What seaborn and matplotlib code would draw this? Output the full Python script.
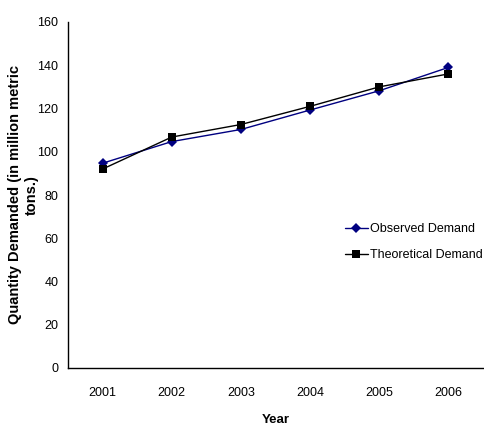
import numpy as np
import pandas as pd
import matplotlib
matplotlib.use('Agg')
import matplotlib.pyplot as plt
import seaborn as sns

# Data
years = ['2001', '2002', '2003', '2004', '2005', '2006']
observed = [94.7, 104.7, 110.3, 119.3, 128.2, 139.0]
theoretical = [92.0, 106.8, 112.6, 121.0, 130.0, 136.0]

sns.set_style('white')
plt.rcParams['font.family'] = ['Liberation Sans', 'DejaVu Sans']
plt.rcParams['text.color'] = 'black'
plt.rcParams['axes.labelcolor'] = 'black'

df = pd.DataFrame({'pos': np.arange(len(years)), 'Observed Demand': observed,
                   'Theoretical Demand': theoretical})

fig = plt.figure(figsize=(4.84, 4.28), dpi=100)
ax = fig.add_axes([68 / 484, 60 / 428, 415 / 484, 346 / 428])

sns.lineplot(data=df, x='pos', y='Observed Demand', ax=ax, color='#000080',
             marker='D', markersize=5, linewidth=1, markeredgewidth=0,
             label='Observed Demand')
sns.lineplot(data=df, x='pos', y='Theoretical Demand', ax=ax, color='black',
             marker='s', markersize=5.5, linewidth=1, markeredgewidth=0,
             label='Theoretical Demand')

ax.set_xlim(-0.5, len(years) - 0.5)
ax.set_ylim(0, 160)
ax.set_yticks(range(0, 161, 20))
ax.set_xticks(range(len(years)))
ax.set_xticklabels(years)
ax.set_xticks(np.arange(-0.5, len(years), 1), minor=True)
ax.tick_params(axis='x', which='major', length=0, pad=14, labelsize=9)
ax.tick_params(axis='x', which='minor', length=5, width=1, color='black', direction='out')
ax.tick_params(axis='y', length=4, width=1, color='black', direction='out', labelsize=9, pad=3)
ax.tick_params(colors='black', labelcolor='black')

for side in ['top', 'right']:
    ax.spines[side].set_visible(False)
for side in ['left', 'bottom']:
    ax.spines[side].set_color('black')
    ax.spines[side].set_linewidth(1)

ax.set_xlabel('Year', fontsize=9.5, fontweight='bold')
ax.xaxis.set_label_coords(0.5, -46 / 346)
ax.set_ylabel('Quantity Demanded (in million metric\ntons.)', fontsize=10.5,
              fontweight='bold', linespacing=1.3)
ax.yaxis.set_label_coords(-29 / 415, 0.5)

ax.legend(loc='center left', bbox_to_anchor=(345 / 484, 1 - 242 / 428),
          bbox_transform=fig.transFigure, frameon=False, fontsize=9,
          handlelength=1.8, handletextpad=0.2, labelspacing=1.1, borderaxespad=0,
          borderpad=0)

fig.savefig('out.png', dpi=100)
